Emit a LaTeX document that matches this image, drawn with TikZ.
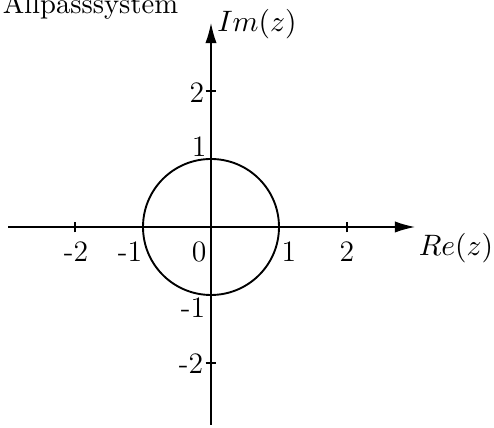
\documentclass[tikz,border=0pt]{standalone}
\usetikzlibrary{arrows.meta}
\begin{document}
\begin{tikzpicture}[x=25.2pt,y=25.2pt,
  axis/.style={line width=0.5pt,-{Latex[length=7.5pt,width=4.2pt]}},
  tick/.style={line width=0.45pt},
  lbl/.style={inner sep=0pt,font=\fontsize{11}{13}\selectfont}]
\useasboundingbox (-3.103,-2.956) rectangle (4.162,3.338);
\coordinate (xs) at (-2.985,0);
\coordinate (xe) at (3.0,0);
\coordinate (ys) at (0,-2.91);
\coordinate (ye) at (0,3.0);
\coordinate (O) at (0,0);
\draw[axis] (xs) -- (xe);
\draw[axis] (ys) -- (ye);
\foreach \t in {-2,-1,0,1,2}{
  \draw[tick] (\t,-0.08) -- (\t,0.08);
  \draw[tick] (-0.08,\t) -- (0.08,\t);
}
\draw[line width=0.7pt] (O) circle (1);
\node[lbl] (xm2) at (-1.985,-0.368) {-2};
\node[lbl] (xm1) at (-1.19,-0.368) {-1};
\node[lbl] (x0) at (-0.176,-0.368) {0};
\node[lbl] (x1) at (1.147,-0.368) {1};
\node[lbl] (x2) at (2.0,-0.368) {2};
\node[lbl] (re) at (3.603,-0.309) {$Re(z)$};
\node[lbl] (im) at (0.676,2.985) {$Im(z)$};
\node[lbl] (y2) at (-0.206,1.97) {2};
\node[lbl] (y1) at (-0.176,1.176) {1};
\node[lbl] (ym1) at (-0.265,-1.19) {-1};
\node[lbl] (ym2) at (-0.294,-2.015) {-2};
\node[inner sep=0pt,font=\fontsize{10.6}{12}\selectfont,anchor=base west] (title) at (-3.07,3.14) {Allpasssystem};
\end{tikzpicture}
\end{document}
